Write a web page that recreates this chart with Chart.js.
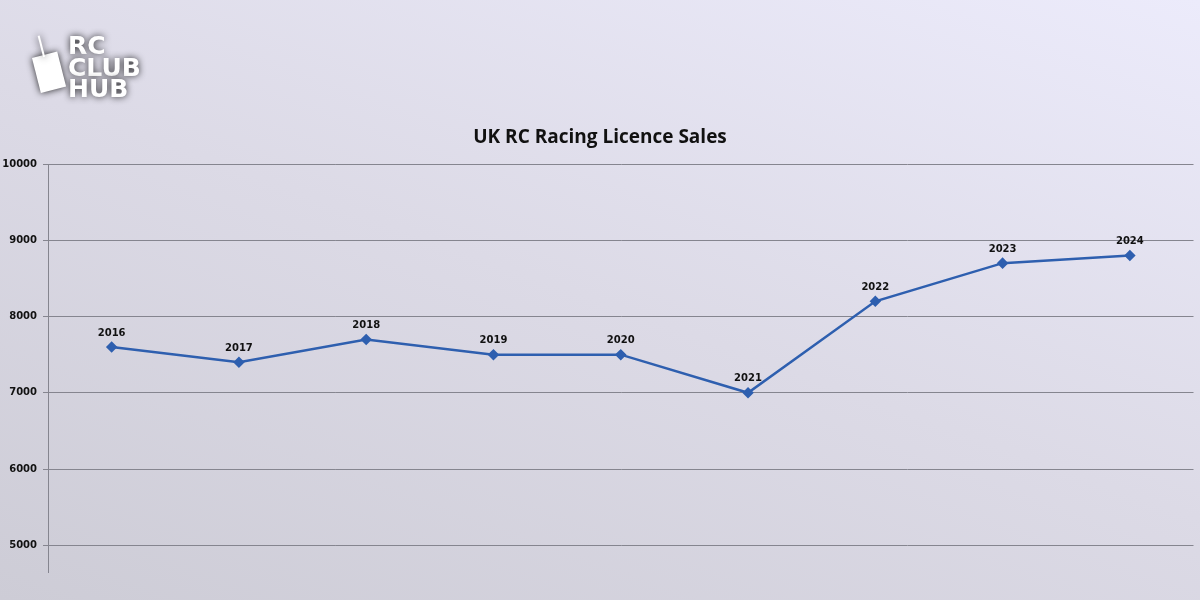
<!DOCTYPE html>
<html><head><meta charset="utf-8">
<script src="https://cdn.jsdelivr.net/npm/chart.js@4"></script>
<style>html,body{margin:0;padding:0}body{width:1200px;height:600px;background:linear-gradient(200deg,#ecebfb 0%,#dcdae6 50%,#cdccd6 100%)}</style>
</head><body>
<canvas id="c" width="1200" height="600"></canvas>
<script>
const years = ['2016','2017','2018','2019','2020','2021','2022','2023','2024'];
const sales = [7600,7400,7700,7500,7500,7000,8200,8700,8800];
const yTicks = [5000,6000,7000,8000,9000,10000];
const title = 'UK RC Racing Licence Sales';

const deco = {
  id:'deco',
  afterDraw(chart){
    const ctx=chart.ctx, meta=chart.getDatasetMeta(0);
    ctx.save();
    ctx.font='bold 10px "DejaVu Sans", sans-serif';
    ctx.fillStyle='#111'; ctx.textAlign='center'; ctx.textBaseline='bottom';
    meta.data.forEach((p,i)=>ctx.fillText(years[i],p.x,p.y-9));
    ctx.font='bold 19px "Open Sans", "DejaVu Sans", sans-serif';
    ctx.textBaseline='middle';
    ctx.fillText(title,600,138);
    // logo
    ctx.shadowColor='rgba(0,0,0,0.85)'; ctx.shadowBlur=7;
    ctx.fillStyle='#fff'; ctx.textAlign='left';
    ctx.font='bold 25px "DejaVu Sans", sans-serif';
    ctx.fillText('RC',68,47);
    ctx.fillText('CLUB',68,69);
    ctx.fillText('HUB',68,90);
    ctx.save(); ctx.translate(50,72); ctx.rotate(-0.25);
    ctx.fillRect(-14,-18,26,36);
    ctx.fillRect(-3,-38,2,22);
    ctx.restore();
    ctx.restore();
  }
};

new Chart(document.getElementById('c'),{
  type:'line',
  data:{labels:years,datasets:[{data:sales,borderColor:'#2e5faf',backgroundColor:'#2e5faf',borderWidth:2.5,pointStyle:'rectRot',pointRadius:4,tension:0}]},
  options:{
    responsive:false,animation:false,
    layout:{padding:{top:164,bottom:28,right:5,left:0}},
    plugins:{legend:{display:false},tooltip:{enabled:false}},
    scales:{
      x:{display:false,offset:true},
      y:{min:4650,max:10000,
        afterBuildTicks(s){s.ticks=yTicks.map(v=>({value:v}));},
        afterFit(s){s.width=48;},
        grid:{color:'#85858f',tickLength:5,lineWidth:1},
        border:{color:'#85858f'},
        ticks:{padding:6,color:'#111',callback:v=>String(v),font:{size:10,weight:'bold',family:'"DejaVu Sans", sans-serif'}}
      }
    }
  },
  plugins:[deco]
});
</script>
</body></html>
